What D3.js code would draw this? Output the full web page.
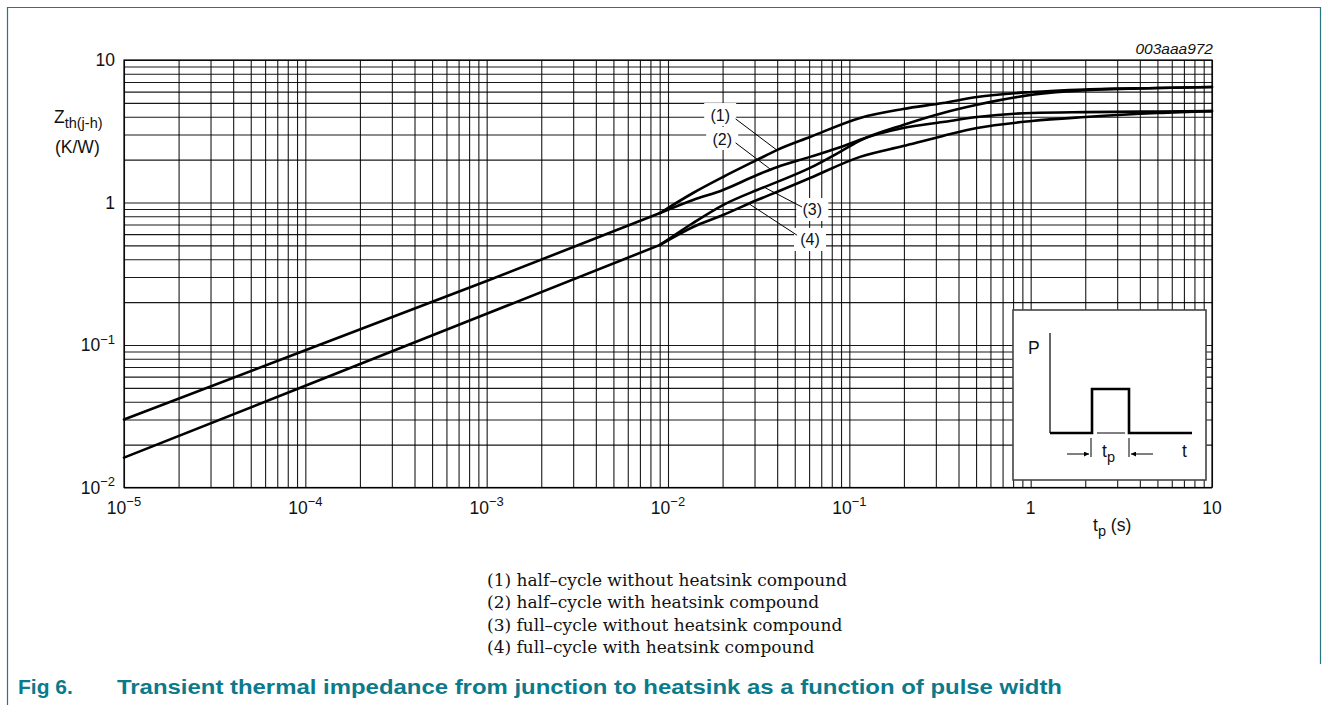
<!DOCTYPE html>
<html><head><meta charset="utf-8">
<script src="https://cdn.jsdelivr.net/npm/d3@7"></script>
<style>body{margin:0;background:#fff}svg{display:block}</style>
</head><body><svg id="c" width="1327" height="705"></svg>
<script>
// ---------- data ----------
const xTickValues = [1e-5, 1e-4, 1e-3, 1e-2, 1e-1, 1, 10];
const xTickBase = ["10", "10", "10", "10", "10", "1", "10"];
const xTickExp = ["−5", "−4", "−3", "−2", "−1", "", ""];
const yTickValues = [0.01, 0.1, 1, 10];
const yTickBase = ["10", "10", "1", "10"];
const yTickExp = ["−2", "−1", "", ""];

// shared straight segments (before the curves split)
const tCommon = [1e-5, 1e-4, 1e-3, 0.00904];
const zCommonHalf = [0.030, 0.0919, 0.281, 0.844];
const zCommonFull = [0.0162, 0.0518, 0.1657, 0.504];

// (1) half-cycle without heatsink compound
const t1 = [0.01374, 0.0201, 0.031, 0.0398, 0.0607, 0.1146, 0.198, 0.328, 0.506, 1.017, 2, 5, 10];
const z1 = [1.166, 1.51, 1.99, 2.33, 2.88, 3.92, 4.53, 4.99, 5.50, 5.96, 6.21, 6.36, 6.47];
// (2) half-cycle with heatsink compound
const t2 = [0.01374, 0.0201, 0.031, 0.0398, 0.0607, 0.0923, 0.1146, 0.198, 0.328, 0.506, 1.017, 2, 5, 10];
const z2 = [1.04, 1.224, 1.56, 1.77, 2.09, 2.48, 2.76, 3.33, 3.67, 3.98, 4.25, 4.31, 4.35, 4.38];
// (3) full-cycle without heatsink compound
const t3 = [0.01374, 0.0201, 0.031, 0.0398, 0.0607, 0.0923, 0.1146, 0.198, 0.328, 0.506, 1.017, 2, 5, 10];
const z3 = [0.718, 0.96, 1.224, 1.39, 1.75, 2.33, 2.72, 3.50, 4.25, 4.85, 5.70, 6.15, 6.36, 6.47];
// (4) full-cycle with heatsink compound
const t4 = [0.01374, 0.0201, 0.031, 0.0398, 0.0607, 0.1146, 0.198, 0.328, 0.506, 1.017, 2, 5, 10];
const z4 = [0.673, 0.817, 1.04, 1.185, 1.485, 2.09, 2.49, 2.93, 3.33, 3.73, 3.98, 4.25, 4.38];

// curve labels: text anchor point, leader start, leader end (data units)
const curveLabels = ["(1)", "(2)", "(3)", "(4)"];
const labelT = [0.0194, 0.0199, 0.0625, 0.0607];
const labelZ = [4.11, 2.79, 0.886, 0.546];
const leaderT0 = [0.0236, 0.0236, 0.0548, 0.0514];
const leaderZ0 = [3.86, 2.62, 0.93, 0.59];
const leaderT1 = [0.0399, 0.0365, 0.0343, 0.0283];
const leaderZ1 = [2.33, 1.72, 1.27, 0.97];

const legendLines = [
  "(1) half–cycle without heatsink compound",
  "(2) half–cycle with heatsink compound",
  "(3) full–cycle without heatsink compound",
  "(4) full–cycle with heatsink compound"
];
const caption = ["Fig 6.", "Transient thermal impedance from junction to heatsink as a function of pulse width"];
const figId = "003aaa972";

// ---------- layout ----------
const svg = d3.select("#c");
const M = {left: 124, top: 60, right: 1212, bottom: 487.5};
const x = d3.scaleLog().domain([1e-5, 10]).range([M.left, M.right]);
const y = d3.scaleLog().domain([0.01, 10]).range([M.bottom, M.top]);
const teal = "#0b7a8b";
const sans = "'Liberation Sans', Arial, Helvetica, sans-serif";
const FS = 17.5, FSsup = 13;

// frame
svg.append("path").attr("d", "M7.5,705 V7.5 H1320.5 V664")
  .attr("fill", "none").attr("stroke", "#2b7483").attr("stroke-width", 1.2);

// grid via axes
const gx = svg.append("g").attr("transform", `translate(0,${M.bottom})`)
  .call(d3.axisBottom(x).tickValues(x.ticks()).tickSize(-(M.bottom - M.top)).tickFormat(""));
const gy = svg.append("g").attr("transform", `translate(${M.left},0)`)
  .call(d3.axisLeft(y).tickValues(y.ticks()).tickSize(-(M.right - M.left)).tickFormat(""));
[gx, gy].forEach(g => {
  g.select(".domain").remove();
  g.selectAll(".tick line").attr("stroke", "#000").attr("stroke-width", 1.1).attr("stroke-opacity", 0.9);
});
svg.append("rect").attr("x", M.left).attr("y", M.top).attr("width", M.right - M.left).attr("height", M.bottom - M.top)
  .attr("fill", "none").attr("stroke", "#000").attr("stroke-width", 1.2);

// tick labels
xTickValues.forEach((v, i) => {
  const t = svg.append("text").attr("x", x(v)).attr("y", M.bottom + 26).attr("text-anchor", "middle")
    .attr("font-family", sans).attr("font-size", FS).attr("fill", "#111");
  t.append("tspan").text(xTickBase[i]);
  if (xTickExp[i]) { t.append("tspan").attr("dy", -7.5).attr("font-size", FSsup).text(xTickExp[i]); }
});
yTickValues.forEach((v, i) => {
  const t = svg.append("text").attr("x", M.left - 9).attr("y", y(v) + 6).attr("text-anchor", "end")
    .attr("font-family", sans).attr("font-size", FS).attr("fill", "#111");
  t.append("tspan").text(yTickBase[i]);
  if (yTickExp[i]) { t.append("tspan").attr("dy", -7.5).attr("font-size", FSsup).text(yTickExp[i]); }
});

// axis titles
const yt = svg.append("text").attr("x", 54).attr("y", 123).attr("font-family", sans).attr("font-size", FS).attr("fill", "#111");
yt.append("tspan").text("Z");
yt.append("tspan").attr("dy", 4.5).attr("font-size", 14.5).text("th(j-h)");
svg.append("text").attr("x", 55).attr("y", 153).attr("font-family", sans).attr("font-size", FS).attr("fill", "#111").text("(K/W)");
const xt = svg.append("text").attr("x", 1093).attr("y", 531).attr("font-family", sans).attr("font-size", FS).attr("fill", "#111");
xt.append("tspan").text("t");
xt.append("tspan").attr("dy", 4.5).attr("font-size", 14.5).text("p");
xt.append("tspan").attr("dy", -4.5).text(" (s)");
svg.append("text").attr("x", M.right + 1).attr("y", 54).attr("text-anchor", "end").attr("font-family", sans)
  .attr("font-style", "italic").attr("font-size", 15.5).attr("fill", "#111").text(figId);

// curves: straight shared parts + smooth tails
const zip = (ts, zs) => ts.map((t, i) => [t, zs[i]]);
const straight = d3.line().x(d => x(d[0])).y(d => y(d[1]));
const smooth = d3.line().x(d => x(d[0])).y(d => y(d[1])).curve(d3.curveMonotoneX);
const commonHalf = zip(tCommon, zCommonHalf), commonFull = zip(tCommon, zCommonFull);
const tails = [
  [commonHalf[commonHalf.length - 1]].concat(zip(t1, z1)),
  [commonHalf[commonHalf.length - 1]].concat(zip(t2, z2)),
  [commonFull[commonFull.length - 1]].concat(zip(t3, z3)),
  [commonFull[commonFull.length - 1]].concat(zip(t4, z4))
];
const cg = svg.append("g").attr("fill", "none").attr("stroke", "#000").attr("stroke-width", 2.6)
  .attr("stroke-linejoin", "round").attr("stroke-linecap", "round");
cg.selectAll("path.s").data([commonHalf, commonFull]).join("path").attr("class", "s").attr("d", straight);
cg.selectAll("path.t").data(tails).join("path").attr("class", "t").attr("d", smooth);

// curve labels with white backgrounds and leader lines
curveLabels.forEach((lab, i) => {
  const cx = x(labelT[i]), cy = y(labelZ[i]);
  svg.append("rect").attr("x", cx - 16).attr("y", cy - 12).attr("width", 32).attr("height", 23).attr("fill", "#fff");
  svg.append("line").attr("x1", x(leaderT0[i])).attr("y1", y(leaderZ0[i])).attr("x2", x(leaderT1[i])).attr("y2", y(leaderZ1[i]))
    .attr("stroke", "#000").attr("stroke-width", 1);
  svg.append("text").attr("x", cx).attr("y", cy + 5.5).attr("text-anchor", "middle").attr("font-family", sans)
    .attr("font-size", 16).attr("fill", "#111").text(lab);
});

// inset pulse diagram
const box = {x0: M.right - 199, y0: M.bottom - 177.5, w: 193, h: 170};
const ix = d3.scaleLinear().domain([0, 193]).range([box.x0, box.x0 + box.w]);
const iy = d3.scaleLinear().domain([0, 170]).range([box.y0, box.y0 + box.h]);
const ins = svg.append("g");
ins.append("rect").attr("x", ix(0)).attr("y", iy(0)).attr("width", box.w).attr("height", box.h)
  .attr("fill", "#fff").attr("stroke", "#444").attr("stroke-width", 1.6);
ins.append("text").attr("x", ix(15)).attr("y", iy(44)).attr("font-family", sans).attr("font-size", FS).attr("fill", "#111").text("P");
ins.append("line").attr("x1", ix(37)).attr("y1", iy(23)).attr("x2", ix(37)).attr("y2", iy(123)).attr("stroke", "#000").attr("stroke-width", 1.2);
const pulse = [[37,123],[79,123],[79,79],[116,79],[116,123],[179,123]];
ins.append("path").attr("d", d3.line().x(d => ix(d[0])).y(d => iy(d[1]))(pulse))
  .attr("fill", "none").attr("stroke", "#000").attr("stroke-width", 2.6);
ins.append("line").attr("x1", ix(84)).attr("y1", iy(123)).attr("x2", ix(112)).attr("y2", iy(123)).attr("stroke", "#fff").attr("stroke-width", 3);
ins.append("line").attr("x1", ix(84)).attr("y1", iy(123)).attr("x2", ix(112)).attr("y2", iy(123)).attr("stroke", "#000").attr("stroke-width", 1);
[78, 116].forEach(v => ins.append("line").attr("x1", ix(v)).attr("y1", iy(128)).attr("x2", ix(v)).attr("y2", iy(147)).attr("stroke", "#000").attr("stroke-width", 1));
const defs = svg.append("defs");
defs.append("marker").attr("id", "ah").attr("viewBox", "0 0 10 10").attr("refX", 10).attr("refY", 5)
  .attr("markerWidth", 9).attr("markerHeight", 5).attr("markerUnits", "userSpaceOnUse").attr("orient", "auto")
  .append("path").attr("d", "M0,0 L10,5 L0,10 Z").attr("fill", "#000");
ins.append("line").attr("x1", ix(54)).attr("y1", iy(144)).attr("x2", ix(76)).attr("y2", iy(144)).attr("stroke", "#000").attr("stroke-width", 1).attr("marker-end", "url(#ah)");
ins.append("line").attr("x1", ix(140)).attr("y1", iy(144)).attr("x2", ix(118)).attr("y2", iy(144)).attr("stroke", "#000").attr("stroke-width", 1).attr("marker-end", "url(#ah)");
const tp = ins.append("text").attr("x", ix(89)).attr("y", iy(147)).attr("font-family", sans).attr("font-size", FS).attr("fill", "#111");
tp.append("tspan").text("t");
tp.append("tspan").attr("dy", 4.5).attr("font-size", 14.5).text("p");
ins.append("text").attr("x", ix(169)).attr("y", iy(147)).attr("font-family", sans).attr("font-size", FS).attr("fill", "#111").text("t");

// legend
svg.append("g").selectAll("text").data(legendLines).join("text")
  .attr("x", 487).attr("y", (d, i) => 586 + i * 22.4)
  .attr("font-family", "'DejaVu Serif', 'Liberation Serif', serif").attr("font-size", 17).attr("fill", "#111")
  .text(d => d);

// caption
svg.append("text").attr("x", 18).attr("y", 694).attr("font-family", sans).attr("font-weight", "bold")
  .attr("font-size", 21).attr("fill", teal).text(caption[0]);
svg.append("text").attr("x", 117).attr("y", 694).attr("font-family", sans).attr("font-weight", "bold")
  .attr("font-size", 21).attr("fill", teal).attr("textLength", 945).attr("lengthAdjust", "spacingAndGlyphs").text(caption[1]);
</script></body></html>
